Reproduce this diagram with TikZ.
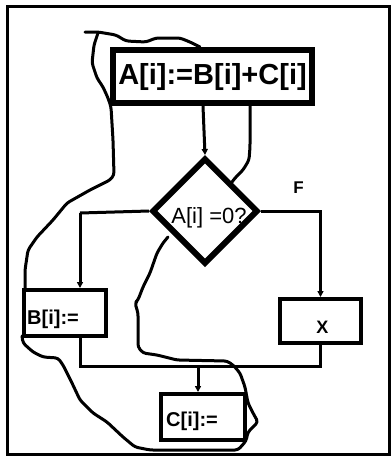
\documentclass[tikz,border=0pt]{standalone}
\usepackage{fontspec}
\setmainfont{Liberation Sans}
\usetikzlibrary{shapes.geometric,arrows.meta,calc}
\tikzset{
  box/.style={draw, line width=4pt, inner sep=0pt},
  topbox/.style={draw, line width=6pt, inner sep=0pt, font=\fontsize{29}{29}\selectfont\bfseries},
  cond/.style={draw, diamond, aspect=1, line width=6pt, inner sep=0pt, minimum width=106pt, minimum height=106pt},
  txt/.style={inner sep=0pt, font=\fontsize{20}{20}\selectfont\bfseries},
  conn/.style={line width=3pt},
  arrow/.style={conn, -{Triangle[length=6pt,width=6pt]}},
  wig/.style={line width=3pt, rounded corners=3pt, line join=round, line cap=round}
}
\begin{document}
\begin{tikzpicture}[x=1pt, y=-1pt]
\useasboundingbox (0,0) rectangle (391,456);
% outer frame
\draw[line width=3pt] (7,6) rectangle (389,454.5);

% blocks
\node[topbox, minimum width=199pt, minimum height=53pt] (top) at (212.5,76.5) {A[i]:=B[i]+C[i]};
\node[cond] (dia) at (205,211) {};
\node[txt, font=\fontsize{22}{22}\selectfont] (dtext) at (209,218) {A[i] =0?};
\node[box, minimum width=82pt, minimum height=46pt] (bbox) at (65,313) {};
\node[txt, anchor=west] (btext) at (27,319.5) {B[i]:=};
\node[box, minimum width=81pt, minimum height=44pt] (xbox) at (320.5,321) {};
\node[txt, font=\fontsize{18}{18}\selectfont\bfseries] (xtext) at (322.5,327.5) {X};
\node[box, minimum width=84pt, minimum height=46pt] (cbox) at (203,417) {};
\node[txt, anchor=west] (ctext) at (166,421.5) {C[i]:=};
\node[txt, font=\fontsize{17}{17}\selectfont\bfseries] (flabel) at (298.5,188) {F};

% connectors
\coordinate (bl) at (80,213);
\coordinate (m) at (198,366);
\draw[arrow] (top.south -| 203,0) -- (dia.north);
\draw[conn] (dia.west) -- (bl);
\draw[arrow] (bl) -- (bl |- bbox.north);
\draw[arrow] (dia.east) -| (xbox.north);
\draw[conn] (bl |- bbox.south) |- (m) -| (xbox.south);
\draw[arrow] (m) -- (m |- cbox.north);

% freehand loop
\draw[wig] (250,103) -- (250,147) -- (249,160) -- (243,170) -- (235,178) -- (232,182);
\draw[wig] (85,32) -- (98,32) -- (116,35) -- (126,41) -- (146,42) -- (156,38)
  -- (180,38) -- (190,42) -- (200,47);
\draw[wig] (98,33) -- (94,45) -- (92,63) -- (97,78) -- (103,87) -- (108,98)
  -- (111,107) -- (113,140) -- (114,175) -- (110,180) -- (90,190) -- (67,203)
  -- (53,220) -- (37,237) -- (28,250) -- (25,270) -- (25,288);
\draw[wig] (22,336) -- (23,343) -- (33,352) -- (43,357) -- (58,358) -- (63,365)
  -- (72,383) -- (80,400) -- (93,413) -- (107,422) -- (123,437) -- (135,447)
  -- (150,450) -- (238,450) -- (246,441) -- (248,432) -- (258,422) -- (253,413)
  -- (248,403) -- (245,387) -- (240,373) -- (233,365) -- (227,361) -- (177,360)
  -- (157,355) -- (143,353) -- (138,347) -- (138,313) -- (135,303) -- (138,300)
  -- (143,287) -- (150,273) -- (157,253) -- (163,243) -- (168,237);
\end{tikzpicture}
\end{document}
